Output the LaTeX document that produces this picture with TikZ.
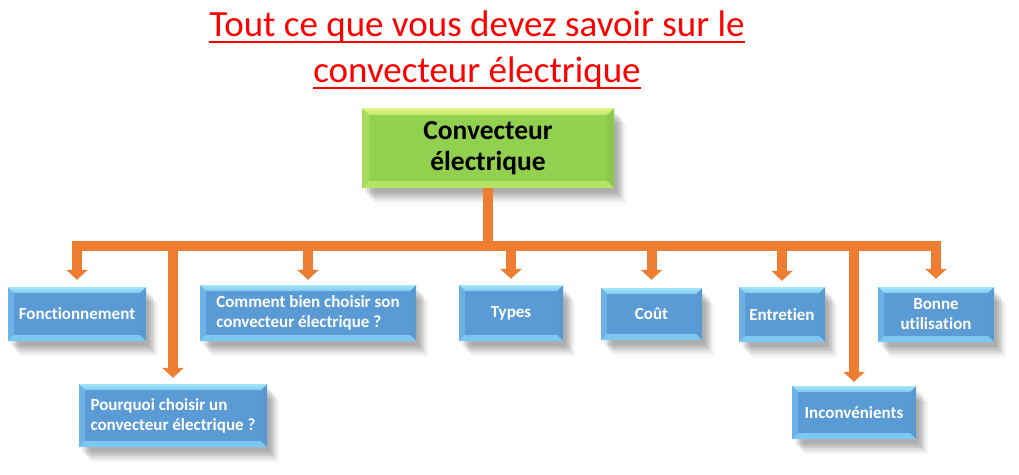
\documentclass[tikz,border=0pt]{standalone}
\usepackage{fontspec}
\setmainfont{Carlito}[Ligatures=NoCommon]
\usetikzlibrary{arrows.meta,shadows}
\definecolor{orng}{HTML}{ED7D31}
\definecolor{bmain}{HTML}{5B9BD5}
\definecolor{btopa}{HTML}{A6E6FB}
\definecolor{btopb}{HTML}{80C6F0}
\definecolor{bbot}{HTML}{7CC8F0}
\definecolor{bleft}{HTML}{6DB2E6}
\definecolor{bright}{HTML}{5A98D2}
\definecolor{gmain}{HTML}{92D050}
\definecolor{gtopa}{HTML}{EAF58C}
\definecolor{gtopb}{HTML}{BDE56A}
\definecolor{gbot}{HTML}{B4E466}
\definecolor{gleft}{HTML}{A6DA5E}
\definecolor{gright}{HTML}{8CC84C}
\definecolor{ttlred}{HTML}{FF0000}
\newsavebox\ulbox
\newcommand\ulined[1]{\sbox\ulbox{#1}\rlap{\rule[-6.5pt]{\wd\ulbox}{2.4pt}}\usebox\ulbox}
\newcommand\mybevel[5]{%
 \path (path picture bounding box.north west) coordinate (bNW)
       (path picture bounding box.north east) coordinate (bNE)
       (path picture bounding box.south west) coordinate (bSW)
       (path picture bounding box.south east) coordinate (bSE);
 \fill[#4] (bNW) -- ([shift={(#1,-#1)}]bNW) -- ([shift={(#1,#1)}]bSW) -- (bSW) -- cycle;
 \fill[#5] (bNE) -- ([shift={(-#1,-#1)}]bNE) -- ([shift={(-#1,#1)}]bSE) -- (bSE) -- cycle;
 \fill[#2] (bNW) -- (bNE) -- ([shift={(-#1,-#1)}]bNE) -- ([shift={(#1,-#1)}]bNW) -- cycle;
 \fill[#3] (bSW) -- (bSE) -- ([shift={(-#1,#1)}]bSE) -- ([shift={(#1,#1)}]bSW) -- cycle;
}
\tikzset{
 shadowed/.style={
  drop shadow={shadow xshift=3pt,shadow yshift=-5pt,opacity=.07,fill=black},
  drop shadow={shadow xshift=5pt,shadow yshift=-7pt,opacity=.07,fill=black},
  drop shadow={shadow xshift=7pt,shadow yshift=-9pt,opacity=.07,fill=black},
  drop shadow={shadow xshift=8pt,shadow yshift=-11pt,opacity=.06,fill=black},
  drop shadow={shadow xshift=10pt,shadow yshift=-13pt,opacity=.05,fill=black},
  drop shadow={shadow xshift=12pt,shadow yshift=-15pt,opacity=.04,fill=black}},
 subbox/.style={rectangle, inner sep=0pt, fill=bmain, text=white, shadowed,
  font=\fontsize{17}{20}\selectfont\bfseries,
  path picture={\mybevel{6pt}{top color=btopa,bottom color=btopb}{bbot}{bleft}{bright}}},
 mainbox/.style={rectangle, inner sep=0pt, fill=gmain, text=black, shadowed,
  font=\fontsize{27.5}{31}\selectfont\bfseries, align=center,
  path picture={\mybevel{7pt}{top color=gtopa,bottom color=gtopb}{gbot}{gleft}{gright}}},
 titlestyle/.style={text=ttlred, font=\fontsize{37}{46}\selectfont, align=center, inner sep=0pt},
 conn/.style={draw=orng, line width=10pt},
 arr/.style={conn, -{Triangle[width=21pt,length=10pt]}}
}
\begin{document}
\begin{tikzpicture}[x=1pt,y=-1pt]
\fill[white] (0,0) rectangle (1019,474);
\useasboundingbox (0,0) rectangle (1019,474);

\node[titlestyle] (title) at (477,50) {\ulined{Tout ce que vous devez savoir sur le}\\\ulined{convecteur électrique}};

\node[mainbox, minimum width=252pt, minimum height=80pt] (main) at (488,148) {Convecteur\\électrique};

\node[subbox, minimum width=138pt, minimum height=54pt] (fon) at (77,314) {Fonctionnement};
\node[subbox, minimum width=188pt, minimum height=63pt, align=left] (pou) at (173,415.5) {Pourquoi choisir un\\convecteur électrique ?};
\node[subbox, minimum width=216pt, minimum height=56pt, align=left] (com) at (308,313) {Comment bien choisir son\\convecteur électrique ?};
\node[subbox, minimum width=104pt, minimum height=56pt] (typ) at (511,313) {Types};
\node[subbox, minimum width=101pt, minimum height=52pt] (cou) at (651.5,314) {Coût};
\node[subbox, minimum width=86pt, minimum height=55pt] (ent) at (782,314.5) {Entretien};
\node[subbox, minimum width=116pt, minimum height=55pt, align=center] (bon) at (936,314.5) {Bonne\\utilisation};
\node[subbox, minimum width=124pt, minimum height=53pt] (inc) at (854,412.5) {Inconvénients};

\coordinate (bar) at (488,245.5);
\draw[conn] (main.south) -- (main.south |- bar);
\draw[conn, line cap=rect] (fon.north |- bar) -- (bon.north |- bar);
\draw[arr] (fon.north |- bar) -- ([yshift=7pt]fon.north);
\draw[arr] (pou.north |- bar) -- ([yshift=6pt]pou.north);
\draw[arr] (com.north |- bar) -- ([yshift=5pt]com.north);
\draw[arr] (typ.north |- bar) -- ([yshift=6pt]typ.north);
\draw[arr] (cou.north |- bar) -- ([yshift=8pt]cou.north);
\draw[arr] (ent.north |- bar) -- ([yshift=6pt]ent.north);
\draw[arr] (inc.north |- bar) -- ([yshift=4pt]inc.north);
\draw[arr] (bon.north |- bar) -- ([yshift=8pt]bon.north);
\end{tikzpicture}
\end{document}
